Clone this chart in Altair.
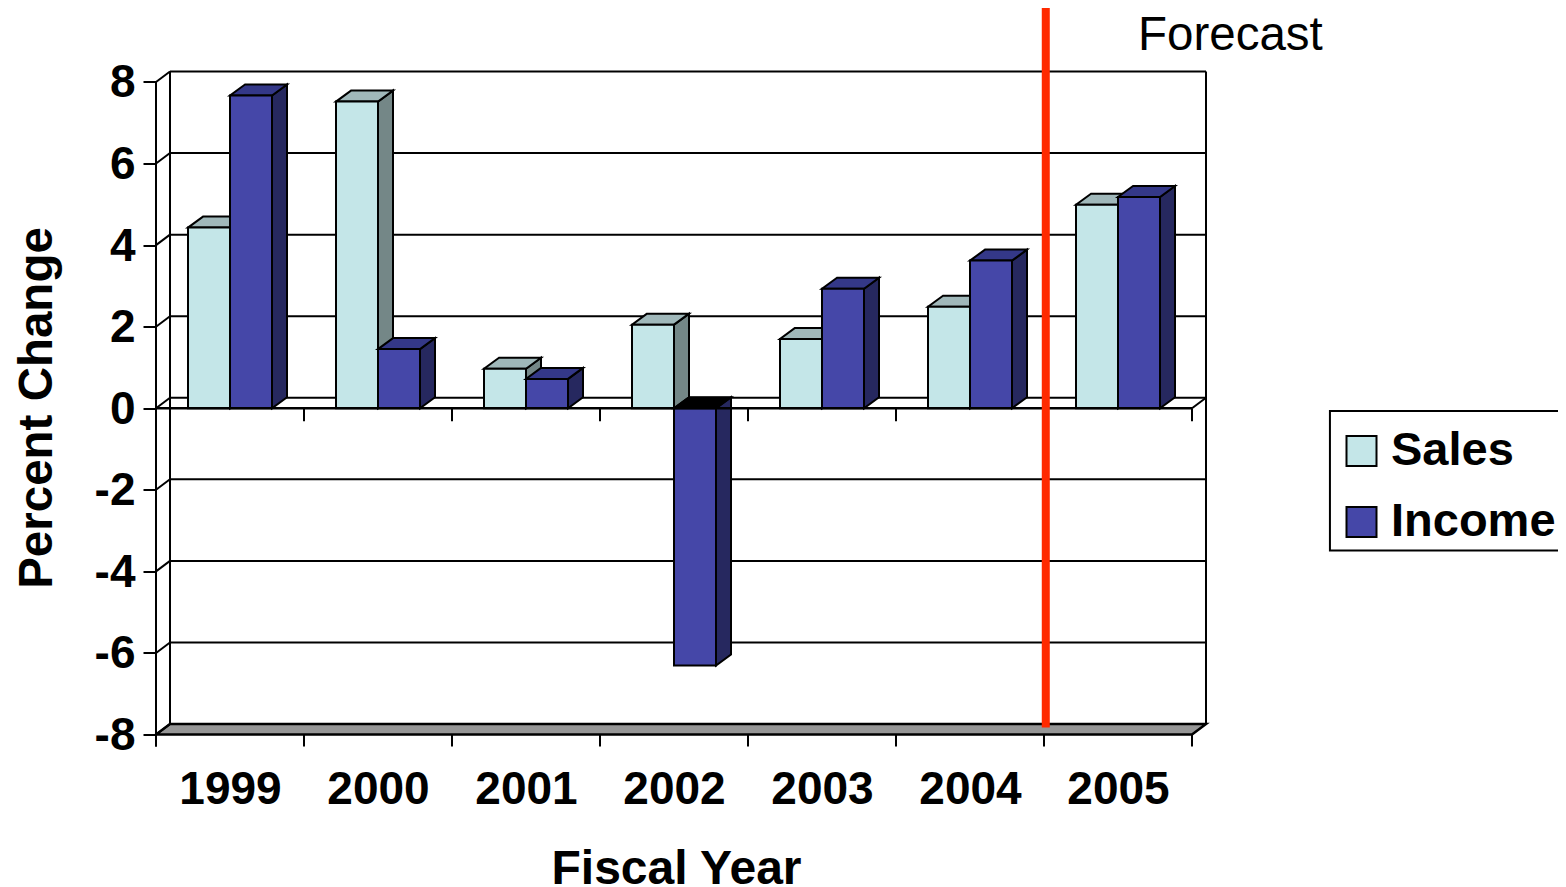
import altair as alt
import pandas as pd

YEARS = ["1999", "2000", "2001", "2002", "2003", "2004", "2005"]
SALES = [4.43, 7.52, 0.97, 2.05, 1.70, 2.49, 4.99]
INCOME = [7.67, 1.45, 0.72, -6.31, 2.93, 3.62, 5.18]
SERIES = ["Sales", "Income"]
Y_TICKS = [-8, -6, -4, -2, 0, 2, 4, 6, 8]
FORECAST_AT = 6.012
FORECAST_LABEL = "Forecast"

FRONT = {"Sales": "#C4E6E8", "Income": "#4547A8"}
SIDE = {"Sales": "#748787", "Income": "#26285F"}
TOP = {"Sales": "#A0B8BA", "Income": "#343888"}

PX_X, PX_Y = 148.0, 40.8
WALL_DX, WALL_DY = 14 / PX_X, 10.5 / PX_Y
BAR_DX, BAR_DY = 15 / PX_X, 11 / PX_Y
BAR_W = 42 / PX_X
N = len(YEARS)
FONT = "Liberation Sans"

x_scale = alt.Scale(domain=[0, N + WALL_DX], nice=False, zero=False)
y_scale = alt.Scale(domain=[-8, 8 + WALL_DY], nice=False, zero=False)

AX_X = alt.Axis(values=[i + 0.5 for i in range(N)], tickSize=0, domain=False,
                grid=False, labelFont=FONT, labelFontSize=46, labelFontWeight="bold",
                labelColor="black", labelPadding=33, labelFlush=False,
                labelOverlap=False, labelBound=False,
                labelExpr="[" + ",".join(f"'{y}'" for y in YEARS) + "][floor(datum.value)]",
                titleFont=FONT, titleFontSize=48, titleFontWeight="bold",
                titleColor="black", titleX=520, titleY=149, titleAnchor="middle",
                titleAlign="center", titleBaseline="alphabetic")
AX_Y = alt.Axis(values=Y_TICKS, tickSize=13, tickWidth=2, tickColor="black",
                domain=False, grid=False, labelFont=FONT, labelFontSize=46,
                labelFontWeight="bold", labelColor="black", labelPadding=8, labelOffset=1,
                labelExpr="'' + datum.value",
                labelOverlap=False, labelBound=False, labelFlush=False,
                titleFont=FONT, titleFontSize=47.5, titleFontWeight="bold",
                titleColor="black", titleX=-105, titleY=336, titleAngle=270,
                titleAnchor="middle", titleAlign="center",
                titleBaseline="alphabetic")


def X(f="x"):
    return alt.X(f + ":Q", scale=x_scale, title="Fiscal Year", axis=AX_X)


def Y(f="y"):
    return alt.Y(f + ":Q", scale=y_scale, title="Percent Change", axis=AX_Y)


# --- bar faces -----------------------------------------------------------
fronts, sides, tops = [], [], []
for s_i, (name, vals) in enumerate(zip(SERIES, [SALES, INCOME])):
    for i, v in enumerate(vals):
        c = i + 0.5
        x0 = c - BAR_W if name == "Sales" else c
        x1 = x0 + BAR_W
        top_val = max(v, 0)
        key = f"{name}{i}"
        fronts.append(dict(series=name, x=x0, x2=x1, y=0, y2=v, year=YEARS[i]))
        sides += [
            dict(id=key, series=name, x=x1, y=top_val, y2=min(v, 0), fill=SIDE[name]),
            dict(id=key, series=name, x=x1 + BAR_DX, y=top_val + BAR_DY,
                 y2=min(v, 0) + BAR_DY, fill=SIDE[name]),
        ]
        tf = "#000000" if v < 0 else TOP[name]
        tops += [
            dict(id=key, series=name, y=top_val, x=x0, x2=x1, fill=tf),
            dict(id=key, series=name, y=top_val + BAR_DY, x=x0 + BAR_DX, x2=x1 + BAR_DX, fill=tf),
        ]
fronts, sides, tops = map(pd.DataFrame, (fronts, sides, tops))


def bar_layers(name):
    side = alt.Chart(sides[sides.series == name]).mark_area(
        orient="vertical", stroke="black", strokeWidth=2).encode(
        x=X(), y=Y(), y2="y2:Q", detail="id:N", fill=alt.Fill("fill:N", scale=None))
    top = alt.Chart(tops[tops.series == name]).mark_area(
        orient="horizontal", stroke="black", strokeWidth=2).encode(
        y=Y(), x=X(), x2="x2:Q", detail="id:N", fill=alt.Fill("fill:N", scale=None))
    front = alt.Chart(fronts[fronts.series == name]).mark_rect(
        stroke="black", strokeWidth=2).encode(
        x=X(), x2="x2:Q", y=Y(), y2="y2:Q",
        color=alt.Color("series:N",
                        scale=alt.Scale(domain=SERIES, range=[FRONT[s] for s in SERIES]),
                        legend=alt.Legend(
                            orient="none", legendX=1166, legendY=340, title=None,
                            padding=16, labelFont=FONT,
                            labelFontSize=47, labelFontWeight="bold", labelColor="black",
                            symbolType="square", symbolSize=900, symbolStrokeColor="black",
                            symbolStrokeWidth=2, labelOffset=6, rowPadding=23,
                            labelLimit=400)))
    return [side, top, front]


# --- chart frame ---------------------------------------------------------
grid = alt.Chart(pd.DataFrame({
    "x": WALL_DX, "x2": N + WALL_DX, "y": [v + WALL_DY for v in Y_TICKS]})
).mark_rule(color="black", strokeWidth=2).encode(x=X(), x2="x2:Q", y=Y())

right_wall = alt.Chart(pd.DataFrame({
    "x": [WALL_DX, N + WALL_DX], "y": -8 + WALL_DY, "y2": 8 + WALL_DY})
).mark_rule(color="black", strokeWidth=2).encode(x=X(), y=Y(), y2="y2:Q")

floor = alt.Chart(pd.DataFrame({
    "y": [-8, -8 + WALL_DY], "x": [0, WALL_DX], "x2": [N, N + WALL_DX]})
).mark_area(orient="horizontal", fill="#969696", stroke="black", strokeWidth=2.5).encode(
    y=Y(), x=X(), x2="x2:Q")

diag_rows = []
for v in Y_TICKS:
    diag_rows += [dict(id=f"L{v}", x=0, y=v), dict(id=f"L{v}", x=WALL_DX, y=v + WALL_DY)]
diag_rows += [dict(id="R0", x=N, y=0), dict(id="R0", x=N + WALL_DX, y=WALL_DY)]
diagonals = alt.Chart(pd.DataFrame(diag_rows)).mark_line(color="black", strokeWidth=2).encode(
    x=X(), y=Y(), detail="id:N")

left_axis = alt.Chart(pd.DataFrame({"x": [0], "y": [8], "y2": [-8 - 12 / PX_Y]})).mark_rule(
    color="black", strokeWidth=2).encode(x=X(), y=Y(), y2="y2:Q")

zero_line = alt.Chart(pd.DataFrame({"x": [0], "x2": [N], "y": [0]})).mark_rule(
    color="black", strokeWidth=2.5).encode(x=X(), x2="x2:Q", y=Y())

tick_rows = []
for i in range(N + 1):
    tick_rows.append(dict(x=i, y=-8, y2=-8 - 12 / PX_Y))
    if i:
        tick_rows.append(dict(x=i, y=0, y2=-13 / PX_Y))
x_ticks = alt.Chart(pd.DataFrame(tick_rows)).mark_rule(color="black", strokeWidth=2).encode(
    x=X(), y=Y(), y2="y2:Q")

forecast_line = alt.Chart(pd.DataFrame({"x": [FORECAST_AT], "y": [9.82], "y2": [-7.83]})).mark_rule(
    color="#FF2A00", strokeWidth=8).encode(x=X(), y=Y(), y2="y2:Q")

forecast_text = alt.Chart(pd.DataFrame({"x": [6.635], "y": [8.78], "t": [FORECAST_LABEL]})).mark_text(
    font=FONT, fontSize=47.5, align="left", baseline="alphabetic", color="black").encode(
    x=X(), y=Y(), text="t:N")

legend_box = alt.Chart(pd.DataFrame({"x": [7.932], "x2": [9.8], "y": [-0.07], "y2": [-3.49]})).mark_rect(
    fill="white", stroke="black", strokeWidth=2).encode(x=X(), x2="x2:Q", y=Y(), y2="y2:Q")

layers = [legend_box, grid, right_wall, floor, diagonals, left_axis]
layers += bar_layers("Sales") + bar_layers("Income")
layers += [zero_line, x_ticks, forecast_line, forecast_text]

chart = alt.layer(*layers).resolve_scale(fill="independent").properties(
    width=1050, height=663,
    autosize=alt.AutoSizeParams(type="none"),
    padding={"left": 148, "top": 63.5, "right": 352, "bottom": 152},
    background="white",
).configure_view(stroke=None)

chart.save("out.html", embed_options={"renderer": "svg", "actions": False})
